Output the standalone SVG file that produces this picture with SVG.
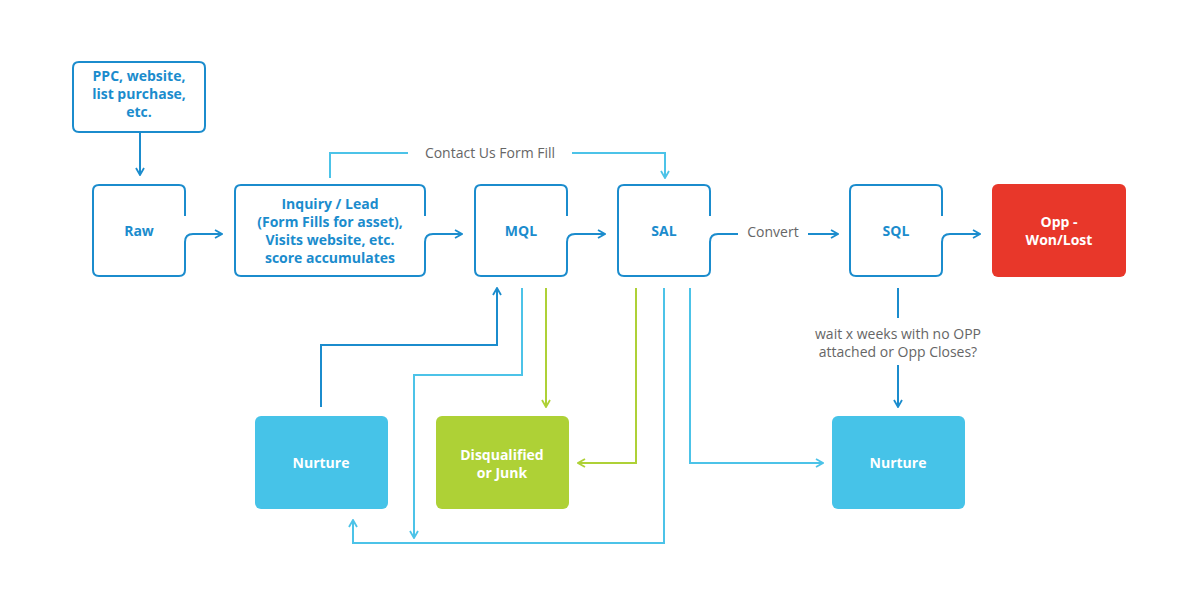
<svg xmlns="http://www.w3.org/2000/svg" width="1200" height="600" viewBox="0 0 1200 600">
<defs>
<style>
.bx{fill:none;stroke:#1b8ccd;stroke-width:2}
.d{fill:none;stroke:#1b8ccd;stroke-width:2}
.l{fill:none;stroke:#4cc3e8;stroke-width:2}
.g{fill:none;stroke:#aed136;stroke-width:2}
.t{font-family:"Open Sans","Liberation Sans",sans-serif;font-weight:bold;font-size:14px;text-anchor:middle}
.tb{fill:#1b8ccd}
.tw{fill:#fff}
.lab{font-family:"Open Sans","Liberation Sans",sans-serif;font-size:14px;fill:#666;text-anchor:middle}
</style>
<marker id="ad" viewBox="0 0 10 10" refX="9" refY="5" markerWidth="10" markerHeight="10" markerUnits="userSpaceOnUse" orient="auto"><path d="M2,1 L9,5 L2,9" fill="none" stroke="#1b8ccd" stroke-width="1.8"/></marker>
<marker id="al" viewBox="0 0 10 10" refX="9" refY="5" markerWidth="10" markerHeight="10" markerUnits="userSpaceOnUse" orient="auto"><path d="M2,1 L9,5 L2,9" fill="none" stroke="#4cc3e8" stroke-width="1.8"/></marker>
<marker id="ag" viewBox="0 0 10 10" refX="9" refY="5" markerWidth="10" markerHeight="10" markerUnits="userSpaceOnUse" orient="auto"><path d="M2,1 L9,5 L2,9" fill="none" stroke="#aed136" stroke-width="1.8"/></marker>
</defs>
<rect width="1200" height="600" fill="#fff"/>
<g id="callout">
<path class="bx" d="M140,132 H79 Q73,132 73,126 V68 Q73,62 79,62 H199 Q205,62 205,68 V126 Q205,132 199,132 H140 V175" marker-end="url(#ad)"/>
<text class="t tb" x="139" y="81">PPC, website,</text>
<text class="t tb" x="139" y="99">list purchase,</text>
<text class="t tb" x="139" y="117">etc.</text>
</g>
<g id="raw">
<path class="bx" d="M185,216 V191 Q185,185 179,185 H99 Q93,185 93,191 V270 Q93,276 99,276 H179 Q185,276 185,270 V242 Q185,234 193,234 H222" marker-end="url(#ad)"/>
<text class="t tb" x="139" y="236">Raw</text>
</g>
<g id="inquiry">
<path class="bx" d="M425,216 V191 Q425,185 419,185 H241 Q235,185 235,191 V270 Q235,276 241,276 H419 Q425,276 425,270 V242 Q425,234 433,234 H462" marker-end="url(#ad)"/>
<text class="t tb" x="330" y="209">Inquiry / Lead</text>
<text class="t tb" x="330" y="227">(Form Fills for asset),</text>
<text class="t tb" x="330" y="245">Visits website, etc.</text>
<text class="t tb" x="330" y="263">score accumulates</text>
</g>
<g id="mql">
<path class="bx" d="M567,216 V191 Q567,185 561,185 H481 Q475,185 475,191 V270 Q475,276 481,276 H561 Q567,276 567,270 V242 Q567,234 575,234 H605" marker-end="url(#ad)"/>
<text class="t tb" x="521" y="236">MQL</text>
</g>
<g id="sal">
<path class="bx" d="M710,216 V191 Q710,185 704,185 H624 Q618,185 618,191 V270 Q618,276 624,276 H704 Q710,276 710,270 V242 Q710,234 718,234 H738"/>
<text class="t tb" x="664" y="236">SAL</text>
</g>
<g id="sql">
<path class="bx" d="M942,216 V191 Q942,185 936,185 H856 Q850,185 850,191 V270 Q850,276 856,276 H936 Q942,276 942,270 V242 Q942,234 950,234 H980" marker-end="url(#ad)"/>
<text class="t tb" x="896" y="236">SQL</text>
</g>
<g id="opp">
<rect x="992" y="184" width="134" height="93" rx="6" fill="#e8372a"/>
<text class="t tw" x="1059" y="227">Opp -</text>
<text class="t tw" x="1059" y="245">Won/Lost</text>
</g>
<g id="nurture1">
<rect x="255" y="416" width="133" height="93" rx="6" fill="#46c3e8"/>
<text class="t tw" x="321" y="468">Nurture</text>
</g>
<g id="disq">
<rect x="436" y="416" width="133" height="93" rx="6" fill="#aed136"/>
<text class="t tw" x="502" y="460">Disqualified</text>
<text class="t tw" x="502" y="478">or Junk</text>
</g>
<g id="nurture2">
<rect x="832" y="416" width="133" height="93" rx="6" fill="#46c3e8"/>
<text class="t tw" x="898" y="468">Nurture</text>
</g>
<g id="connectors">
<path class="l" d="M330,178 V153 H408"/>
<path class="l" d="M572,153 H665 V178" marker-end="url(#al)"/>
<text class="lab" x="490" y="158">Contact Us Form Fill</text>
<text class="lab" x="773" y="237">Convert</text>
<path class="d" d="M808,234 H838" marker-end="url(#ad)"/>
<path class="d" d="M898,288 V318"/>
<text class="lab" x="898" y="339">wait x weeks with no OPP</text>
<text class="lab" x="898" y="357">attached or Opp Closes?</text>
<path class="d" d="M898,365 V407" marker-end="url(#ad)"/>
<path class="d" d="M321,407 V345 H497 V288" marker-end="url(#ad)"/>
<path class="l" d="M522,288 V375 H414 V538" marker-end="url(#al)"/>
<path class="g" d="M546,288 V407" marker-end="url(#ag)"/>
<path class="g" d="M636,288 V463 H578" marker-end="url(#ag)"/>
<path class="l" d="M664,288 V543 H353 V520" marker-end="url(#al)"/>
<path class="l" d="M690,288 V463 H823" marker-end="url(#al)"/>
</g>
</svg>
